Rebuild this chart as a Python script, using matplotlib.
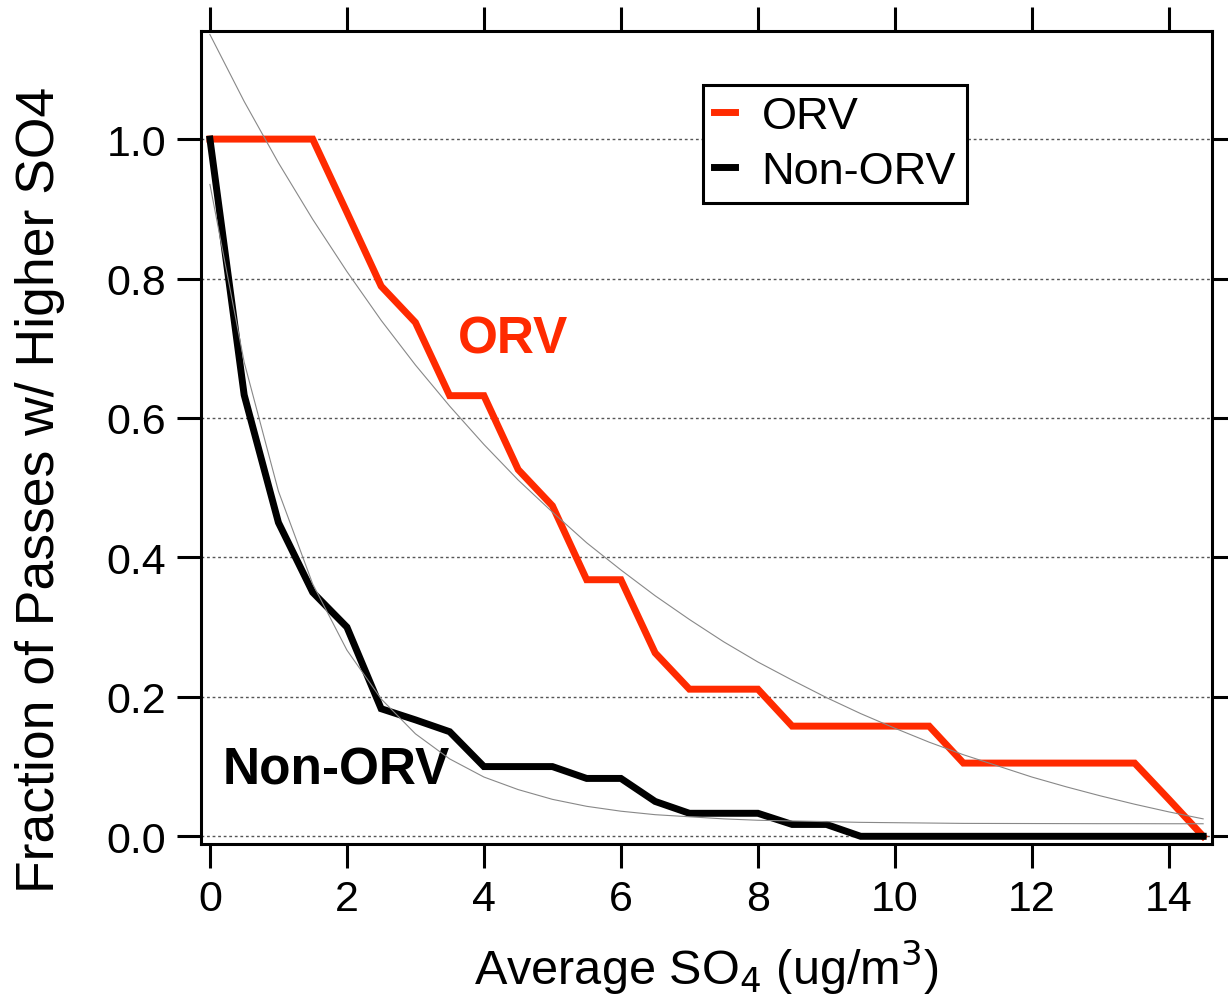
import matplotlib
matplotlib.use("Agg")
import matplotlib.pyplot as plt

plt.rcParams['font.family'] = ['Liberation Sans', 'DejaVu Sans']

# SO4 bins (ug/m3)
so4 = [0.0, 0.5, 1.0, 1.5, 2.0, 2.5, 3.0, 3.5, 4.0, 4.5, 5.0, 5.5, 6.0, 6.5, 7.0,
       7.5, 8.0, 8.5, 9.0, 9.5, 10.0, 10.5, 11.0, 11.5, 12.0, 12.5, 13.0, 13.5, 14.0, 14.5]

# fraction of passes with higher SO4
orv = [1.0, 1.0, 1.0, 1.0, 0.895, 0.789, 0.737, 0.632, 0.632, 0.526, 0.474, 0.368,
       0.368, 0.263, 0.211, 0.211, 0.211, 0.158, 0.158, 0.158, 0.158, 0.158, 0.105,
       0.105, 0.105, 0.105, 0.105, 0.105, 0.053, 0.0]
non_orv = [1.0, 0.633, 0.45, 0.35, 0.30, 0.183, 0.167, 0.15, 0.10, 0.10, 0.10, 0.083,
           0.083, 0.05, 0.033, 0.033, 0.033, 0.017, 0.017, 0.0, 0.0, 0.0, 0.0, 0.0,
           0.0, 0.0, 0.0, 0.0, 0.0, 0.0]

# exponential fit curves (thin gray)
orv_fit = [1.150, 1.054, 0.966, 0.885, 0.810, 0.740, 0.676, 0.617, 0.562, 0.511,
           0.465, 0.421, 0.382, 0.345, 0.311, 0.279, 0.250, 0.224, 0.199, 0.176,
           0.155, 0.135, 0.117, 0.101, 0.085, 0.071, 0.058, 0.046, 0.035, 0.025]
non_orv_fit = [0.935, 0.680, 0.495, 0.362, 0.267, 0.197, 0.147, 0.111, 0.085, 0.067,
               0.053, 0.043, 0.036, 0.031, 0.028, 0.025, 0.023, 0.022, 0.021, 0.020,
               0.0195, 0.019, 0.0185, 0.0184, 0.0183, 0.0182, 0.0181, 0.0181, 0.018, 0.018]

xticks = [0, 2, 4, 6, 8, 10, 12, 14]
yticks = [0.0, 0.2, 0.4, 0.6, 0.8, 1.0]

RED = '#ff2a00'

fig = plt.figure(figsize=(12.28, 10.04), dpi=100)
ax = fig.add_axes([0.1637, 0.1584, 0.8233, 0.8097])

for y in yticks:
    ax.axhline(y, color='#555555', lw=1.0, ls=(0, (2, 2)), zorder=1)

ax.plot(so4, orv, color=RED, lw=5, label='ORV', zorder=3, solid_joinstyle='miter')
ax.plot(so4, non_orv, color='black', lw=5, label='Non-ORV', zorder=3, solid_joinstyle='miter')
ax.plot(so4, orv_fit, color='#888888', lw=0.8, zorder=4)
ax.plot(so4, non_orv_fit, color='#888888', lw=0.8, zorder=4)

ax.set_xlim(-0.13, 14.63)
ax.set_ylim(-0.011, 1.155)
ax.set_xticks(xticks)
ax.set_yticks(yticks)
ax.set_yticklabels(['%.1f' % v for v in yticks])

ax.tick_params(axis='both', which='major', direction='out', length=17, width=2.2,
               labelsize=31, top=True, right=True, pad=8)
for sp in ax.spines.values():
    sp.set_linewidth(2.2)

ax.set_xlabel('Average SO$_4$ (ug/m$^3$)', fontsize=35, labelpad=13)
fig.text(40 / 1228, 1 - 490 / 1004, 'Fraction of Passes w/ Higher SO4', fontsize=38.5,
         rotation=90, ha='center', va='center')

ax.text(4.42, 0.713, 'ORV', color=RED, fontsize=37, fontweight='bold',
        ha='center', va='center')
ax.text(0.19, 0.095, 'Non-ORV', color='black', fontsize=37, fontweight='bold',
        ha='left', va='center')

leg = ax.legend(loc='upper left', bbox_to_anchor=(0.4965, 0.9336), borderaxespad=0,
                fontsize=32.5, handlelength=0.45, handletextpad=0.6, frameon=True,
                fancybox=False, edgecolor='black', framealpha=1,
                borderpad=0.25, labelspacing=0.3)
leg.get_frame().set_linewidth(2.2)
leg.set_zorder(5)

fig.savefig('out.png', dpi=100)
